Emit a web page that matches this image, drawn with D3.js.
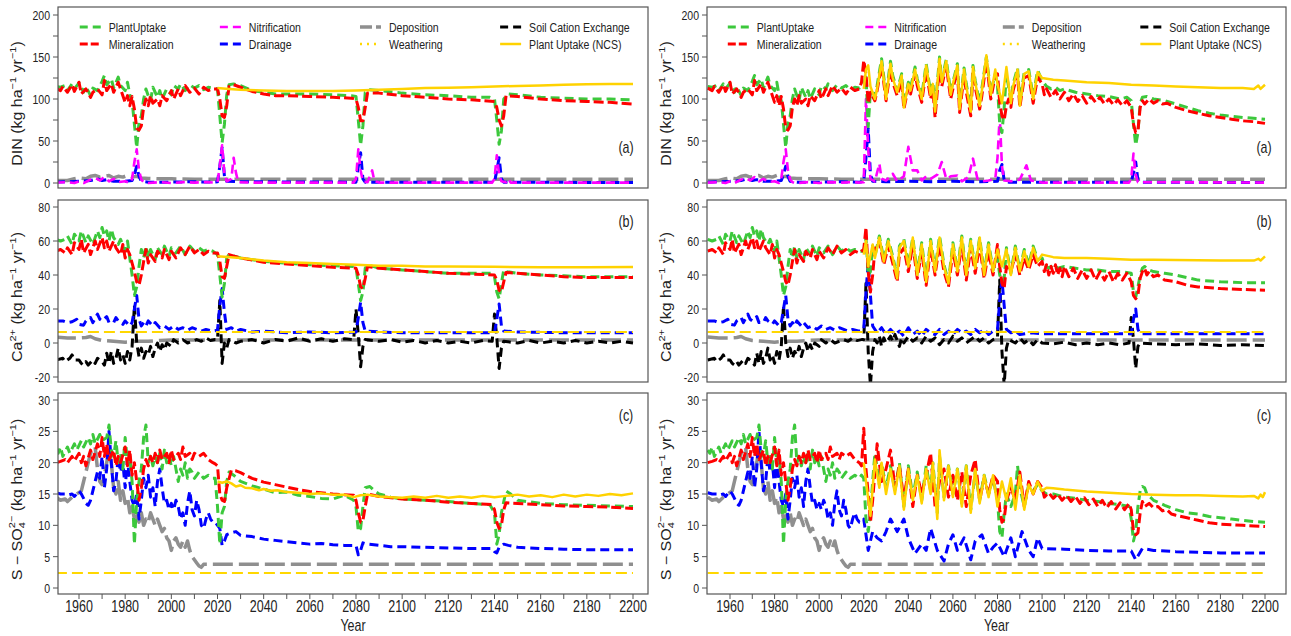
<!DOCTYPE html>
<html>
<head>
<meta charset="utf-8">
<title>DIN, Ca and S fluxes</title>
<script src="https://d3js.org/d3.v7.min.js"></script>
<style>
  body { margin: 0; background: #fff; }
  text { font-family: "Liberation Sans", Arial, sans-serif; fill: #222; }
</style>
</head>
<body>
<svg id="chart" width="1291" height="636"></svg>
<script>
// ---------- data (year, value) ----------
// DIN panel
const dinUptakeHist = [[1950,115],[1952,114],[1954,116],[1955,110],[1957,118],[1958,112],[1960,119],[1962,108],[1963,115],[1965,104],[1966,113],[1968,110],[1970,121],[1971,128],[1972,117],[1974,124],[1975,113],[1977,126],[1978,116],[1980,110],[1981,120],[1982,105],[1983,98],[1984,70],[1985,42],[1986,72],[1987,80],[1988,100],[1989,112],[1990,104],[1991,98],[1992,114],[1994,102],[1995,110],[1996,100],[1998,112],[2000,105],[2001,116],[2003,112],[2004,118],[2006,110],[2008,117],[2010,113],[2012,116],[2014,111],[2016,114],[2018,113]];
const dinMinHist = [[1950,113],[1952,110],[1953,115],[1955,108],[1957,117],[1958,109],[1960,120],[1961,106],[1963,112],[1965,102],[1966,108],[1968,112],[1970,105],[1971,122],[1972,110],[1974,118],[1975,108],[1977,120],[1978,112],[1980,96],[1981,104],[1982,92],[1983,103],[1984,88],[1985,65],[1986,63],[1987,68],[1988,90],[1989,100],[1990,92],[1991,104],[1992,95],[1994,100],[1995,92],[1996,104],[1998,98],[2000,110],[2001,100],[2003,112],[2004,104],[2006,116],[2008,108],[2010,113],[2012,106],[2014,114],[2016,110],[2018,112]];
const dinNitrHist = [[1950,0.5],[1955,1],[1958,0],[1960,2],[1962,0],[1965,4],[1967,6],[1969,3],[1971,7],[1973,2],[1975,5],[1977,1],[1980,2],[1982,0],[1983,5],[1984,25],[1985,40],[1986,15],[1987,4],[1988,1],[1990,0],[1995,1],[2000,0],[2005,1],[2010,0.5],[2015,1],[2018,0.5]];
const dinDrainHist = [[1950,1],[1955,1.5],[1960,2],[1965,3],[1968,5],[1970,3],[1972,4],[1975,2],[1980,2],[1983,3],[1984,10],[1985,20],[1986,8],[1987,2],[1990,1],[2000,1],[2010,1.5],[2018,1]];
const dinDepo = [[1950,3],[1955,3],[1958,5],[1960,6],[1963,5],[1965,8],[1967,9],[1969,7],[1971,8],[1973,9],[1975,6],[1977,8],[1979,7],[1981,9],[1983,7],[1985,8],[1987,6],[1990,5.5],[1995,5],[2000,5],[2010,4.5],[2200,4.5]];

const dinUptakeA = [[2020,112],[2021,80],[2022,48],[2023,70],[2024,105],[2025,117],[2027,118],[2030,116],[2035,110],[2040,108],[2045,106],[2050,106],[2060,106],[2070,105],[2078,104],[2080,103],[2081,75],[2082,45],[2083,68],[2084,108],[2086,111],[2090,110],[2100,107],[2110,105],[2120,104],[2130,102],[2138,102],[2140,100],[2141,75],[2142,46],[2143,62],[2144,100],[2146,106],[2150,105],[2160,102],[2170,101],[2180,100],[2190,100],[2200,99]];
const dinMinA = [[2020,112],[2021,100],[2022,80],[2023,78],[2024,92],[2025,115],[2027,117],[2030,114],[2035,109],[2040,106],[2045,104],[2050,104],[2060,103],[2070,102],[2078,101],[2080,100],[2081,90],[2082,74],[2083,74],[2084,90],[2085,107],[2090,107],[2100,104],[2110,102],[2120,100],[2130,99],[2140,97],[2141,90],[2142,75],[2143,68],[2144,80],[2145,104],[2150,103],[2160,100],[2170,98],[2180,97],[2190,96],[2200,94]];
const dinNcsA = [[2020,113],[2025,112],[2030,111],[2040,110],[2050,109.5],[2060,109.5],[2070,109.5],[2080,110],[2090,111],[2100,112],[2110,113],[2120,113.5],[2130,114],[2140,115],[2150,115.5],[2160,116],[2170,117],[2180,117.5],[2190,118],[2200,118]];
const dinNitrA = [[2020,1],[2021,20],[2022,45],[2023,10],[2024,2],[2026,5],[2027,30],[2028,12],[2029,1],[2035,0.5],[2050,0.5],[2079,0.5],[2080,5],[2081,40],[2082,15],[2083,2],[2085,1],[2087,15],[2088,2],[2090,0.5],[2120,0.5],[2139,0.5],[2140,5],[2141,33],[2142,10],[2143,2],[2145,1],[2146,5],[2147,0.5],[2200,0.5]];
const dinDrainA = [[2020,1.5],[2021,20],[2022,42],[2023,8],[2024,2],[2030,1.5],[2080,1],[2081,20],[2082,36],[2083,5],[2084,1],[2140,1],[2141,15],[2142,30],[2143,5],[2144,1],[2200,0.5]];

const dinUptakeB = [[2020,118],[2021,128],[2022,67],[2023,110],[2025,104],[2026,116],[2028,148],[2030,104],[2032,145],[2033,128],[2035,110],[2037,130],[2038,93],[2040,120],[2041,113],[2043,138],[2044,124],[2046,103],[2048,142],[2050,108],[2051,120],[2052,88],[2054,150],[2055,122],[2057,147],[2059,108],[2060,120],[2062,142],[2063,90],[2065,137],[2066,118],[2068,88],[2069,140],[2070,122],[2072,95],[2073,113],[2075,150],[2077,108],[2079,130],[2080,115],[2081,70],[2082,60],[2083,90],[2084,130],[2086,98],[2087,118],[2089,137],[2090,95],[2092,132],[2094,135],[2096,103],[2098,134],[2100,122],[2102,115],[2104,112],[2106,114],[2108,110],[2110,112],[2115,108],[2120,106],[2125,104],[2130,103],[2135,100],[2138,102],[2140,98],[2141,70],[2142,45],[2143,60],[2144,95],[2145,102],[2147,103],[2150,100],[2155,98],[2160,94],[2165,90],[2170,86],[2175,83],[2180,81],[2190,78],[2200,76]];
const dinMinB = [[2019,120],[2020,146],[2021,130],[2022,95],[2023,108],[2025,98],[2026,110],[2028,140],[2030,98],[2032,136],[2033,120],[2035,104],[2037,122],[2038,88],[2040,114],[2041,106],[2043,130],[2044,116],[2046,96],[2048,134],[2050,100],[2051,112],[2052,78],[2054,140],[2055,115],[2057,140],[2059,100],[2060,112],[2062,134],[2063,84],[2065,128],[2066,108],[2068,80],[2069,132],[2070,114],[2072,88],[2073,104],[2075,145],[2077,100],[2079,128],[2080,130],[2081,95],[2082,80],[2083,75],[2084,92],[2085,100],[2086,90],[2087,110],[2089,130],[2090,90],[2092,125],[2094,128],[2096,95],[2098,126],[2100,118],[2101,105],[2102,112],[2104,102],[2106,110],[2108,100],[2110,108],[2112,98],[2114,106],[2116,97],[2118,104],[2120,95],[2122,103],[2124,96],[2126,102],[2128,94],[2130,100],[2132,93],[2134,99],[2136,92],[2138,98],[2140,90],[2141,70],[2142,60],[2143,62],[2144,90],[2145,98],[2146,94],[2148,100],[2150,95],[2152,98],[2154,94],[2156,95],[2160,90],[2165,86],[2170,83],[2175,80],[2180,78],[2185,76],[2190,74],[2195,73],[2200,71]];
const dinNcsB = [[2020,112],[2021,135],[2022,140],[2023,115],[2025,100],[2026,112],[2028,145],[2030,100],[2032,142],[2033,125],[2035,108],[2037,128],[2038,90],[2040,118],[2041,110],[2043,135],[2044,122],[2046,100],[2048,140],[2050,105],[2051,118],[2052,85],[2054,148],[2055,120],[2057,145],[2059,105],[2060,118],[2062,140],[2063,88],[2065,135],[2066,115],[2068,85],[2069,138],[2070,120],[2072,92],[2073,110],[2075,152],[2077,105],[2079,135],[2080,118],[2082,95],[2084,138],[2086,95],[2087,115],[2089,135],[2090,92],[2092,130],[2094,133],[2096,100],[2098,132],[2100,125],[2105,123],[2110,122],[2120,120],[2130,119],[2140,117],[2150,116],[2160,115],[2170,114],[2180,113],[2190,113],[2195,112],[2197,116],[2198,112],[2200,117]];
const dinNitrB = [[2020,1],[2021,100],[2022,40],[2023,5],[2025,2],[2027,23],[2028,5],[2030,3],[2033,11],[2035,2],[2038,8],[2040,43],[2042,15],[2044,15],[2046,3],[2048,8],[2050,5],[2053,10],[2055,25],[2057,5],[2059,8],[2062,9],[2064,2],[2067,7],[2069,29],[2071,5],[2073,2],[2076,3],[2079,5],[2080,30],[2081,80],[2082,20],[2083,3],[2086,2],[2090,4],[2093,21],[2095,3],[2100,0.5],[2139,0.5],[2140,5],[2141,35],[2142,10],[2143,1],[2200,0.5]];
const dinDrainB = [[2020,2],[2021,30],[2022,65],[2023,10],[2024,2],[2030,1.5],[2040,2],[2050,1.5],[2060,2],[2070,1.5],[2080,2],[2081,15],[2082,22],[2083,3],[2085,1],[2100,1],[2140,1],[2141,12],[2142,25],[2143,3],[2144,1],[2200,0.5]];

// Ca panel
const caUptakeHist = [[1950,61],[1952,60],[1954,61],[1955,63],[1957,58],[1958,64],[1960,60],[1961,66],[1963,59],[1964,63],[1966,58],[1968,66],[1969,62],[1970,68],[1971,63],[1972,66],[1973,60],[1974,67],[1975,62],[1977,58],[1978,61],[1980,54],[1981,60],[1982,50],[1983,40],[1984,28],[1985,33],[1986,45],[1987,55],[1988,50],[1989,57],[1990,50],[1991,55],[1993,49],[1994,56],[1996,52],[1997,57],[1999,51],[2000,56],[2002,53],[2004,57],[2006,52],[2008,57],[2010,54],[2012,56],[2014,54],[2016,55],[2018,54]];
const caMinHist = [[1950,54],[1952,55],[1954,53],[1955,56],[1957,52],[1958,59],[1960,55],[1961,61],[1962,53],[1964,58],[1965,52],[1967,60],[1968,55],[1970,62],[1971,56],[1972,60],[1973,54],[1975,60],[1976,56],[1978,52],[1979,58],[1980,50],[1981,55],[1982,52],[1983,47],[1984,42],[1985,36],[1986,34],[1987,40],[1988,48],[1989,55],[1990,47],[1991,52],[1993,48],[1994,54],[1996,50],[1997,55],[1999,49],[2000,54],[2002,50],[2004,56],[2006,52],[2008,57],[2010,53],[2012,55],[2014,52],[2016,54],[2018,53]];
const caDrainHist = [[1950,13],[1953,13],[1955,12],[1957,12.5],[1959,14],[1960,11],[1962,10.5],[1963,13],[1965,15],[1966,12],[1968,17],[1969,14],[1970,13],[1972,15.5],[1973,12],[1975,12],[1976,15],[1977,13],[1979,11],[1980,13],[1982,10],[1983,12],[1984,20],[1985,28],[1986,14],[1987,10],[1988,12],[1989,10],[1990,13],[1992,10],[1993,12],[1995,9],[1997,10],[1999,8],[2001,10],[2003,8],[2005,9],[2007,7.5],[2009,9],[2011,8],[2013,7],[2015,8],[2018,7]];
const caExchHist = [[1950,-10],[1953,-9],[1954,-11],[1956,-9],[1957,-7],[1958,-10],[1960,-10],[1961,-12],[1962,-13],[1963,-11],[1964,-13],[1966,-10],[1967,-12],[1968,-9],[1970,-11],[1971,-13],[1972,-6],[1973,-12],[1974,-5],[1975,-12],[1976,-9],[1977,-3],[1978,-10],[1979,-7],[1980,-12],[1981,-5],[1982,-10],[1983,-2],[1984,22],[1985,0],[1986,-8],[1987,-3],[1988,-9],[1989,-5],[1990,-7],[1991,-2],[1992,-8],[1993,-3],[1994,0],[1995,-5],[1996,-1],[1997,-4],[1998,0],[2000,-2],[2001,2],[2003,0],[2005,2],[2007,0],[2009,1],[2011,2],[2013,1],[2015,3],[2017,1.5],[2019,2]];
const caDepo = [[1950,3.5],[1955,3],[1960,3],[1963,3.2],[1965,3.8],[1967,2.5],[1970,1.5],[1975,1],[1980,0.5],[1985,1],[1990,1],[1995,1.5],[2000,1.8],[2200,1.8]];
const caWeath = [[1950,6.5],[2200,6.5]];

const caUptakeA = [[2020,52],[2021,40],[2022,27],[2023,35],[2024,50],[2025,52],[2030,50],[2040,48],[2050,47],[2060,46],[2070,45.5],[2079,45],[2080,44],[2081,35],[2082,25],[2083,30],[2084,44],[2085,46],[2090,44],[2100,43],[2110,42],[2120,41],[2130,41],[2139,41],[2140,39],[2141,30],[2142,26],[2143,35],[2144,43],[2145,42],[2150,41],[2160,40],[2170,39.5],[2180,39],[2190,39],[2200,39]];
const caMinA = [[2020,53],[2021,48],[2022,39],[2023,38],[2024,45],[2025,52],[2030,50],[2040,47.5],[2050,46.5],[2060,45.5],[2070,44.5],[2080,44],[2081,40],[2082,33],[2083,32],[2084,38],[2085,45],[2090,44],[2100,43],[2110,42],[2120,41],[2130,40.5],[2140,40],[2141,37],[2142,31],[2143,30],[2144,36],[2145,41.5],[2150,41],[2160,40],[2170,39],[2180,38.5],[2190,38.5],[2200,38.5]];
const caNcsA = [[2020,51],[2030,50],[2040,48.5],[2050,47.5],[2060,47],[2070,46.5],[2080,46],[2090,45.5],[2100,45.5],[2110,45],[2120,45],[2140,44.8],[2160,44.6],[2180,44.6],[2200,44.7]];
const caDrainA = [[2020,7.5],[2021,22],[2022,32],[2023,18],[2024,8],[2026,9],[2028,7],[2030,8],[2035,6.5],[2040,7],[2050,6],[2060,6.5],[2070,6],[2080,6.5],[2081,15],[2082,24],[2083,12],[2084,7],[2090,6.5],[2100,6],[2120,6],[2140,6],[2141,14],[2142,23],[2143,10],[2144,7],[2150,6.5],[2170,6],[2200,6]];
const caExchA = [[2020,2],[2021,25],[2022,-12],[2023,0],[2024,-3],[2025,2],[2028,0],[2030,1],[2035,2],[2040,0],[2045,2],[2050,1],[2055,3],[2060,1],[2065,2.5],[2070,1],[2075,2.5],[2079,2],[2080,20],[2081,5],[2082,-14],[2083,-2],[2084,2],[2090,1],[2095,2],[2100,0.5],[2105,1.5],[2110,0],[2115,1.5],[2120,0],[2125,1],[2130,0],[2135,1.5],[2139,1],[2140,17],[2141,3],[2142,-15],[2143,-3],[2144,1],[2150,0],[2155,1.5],[2160,0],[2165,1],[2170,0],[2175,1.5],[2180,0],[2185,1],[2190,0],[2195,1],[2200,0]];

const caUptakeB = [[2020,54],[2021,62],[2022,40],[2023,42],[2024,57],[2025,51],[2027,63],[2029,49],[2031,61],[2033,51],[2035,39],[2036,57],[2038,61],[2040,46],[2042,62],[2044,41],[2046,59],[2048,37],[2050,61],[2052,43],[2054,63],[2056,46],[2058,36],[2060,59],[2062,43],[2064,63],[2066,41],[2068,61],[2070,45],[2072,62],[2074,41],[2076,59],[2078,43],[2080,50],[2081,40],[2082,36],[2083,38],[2084,56],[2086,41],[2088,57],[2090,43],[2092,55],[2094,46],[2096,57],[2098,49],[2100,50],[2101,46],[2103,44],[2105,46],[2107,44],[2110,45],[2115,44],[2120,43],[2125,43],[2130,42],[2135,42],[2140,41],[2141,30],[2142,27],[2143,33],[2144,40],[2145,44],[2146,45],[2148,43],[2150,42],[2155,41],[2160,40],[2170,37],[2180,36],[2190,35.5],[2200,35.5]];
const caMinB = [[2020,55],[2021,68],[2022,42],[2023,30],[2024,40],[2025,55],[2027,60],[2029,46],[2031,57],[2033,47],[2035,36],[2036,52],[2038,56],[2040,42],[2042,58],[2044,38],[2046,54],[2048,34],[2050,56],[2052,40],[2054,58],[2056,42],[2058,33],[2060,54],[2062,40],[2064,58],[2066,37],[2068,56],[2070,41],[2072,58],[2074,38],[2076,54],[2078,40],[2080,58],[2081,45],[2082,35],[2083,32],[2084,45],[2086,42],[2088,52],[2090,40],[2092,50],[2094,43],[2096,52],[2098,45],[2100,48],[2101,42],[2102,46],[2103,40],[2104,45],[2105,41],[2106,46],[2107,40],[2108,44],[2109,39],[2110,45],[2112,39],[2114,44],[2116,38],[2118,43],[2120,38],[2122,43],[2124,37],[2126,42],[2128,37],[2130,42],[2132,36],[2134,41],[2136,37],[2138,41],[2140,36],[2141,28],[2142,26],[2143,28],[2144,38],[2145,42],[2146,44],[2147,40],[2148,42],[2150,39],[2152,40],[2155,37],[2160,36],[2165,34],[2170,33],[2180,32],[2190,31.5],[2200,31]];
const caNcsB = [[2020,52],[2021,60],[2022,45],[2024,58],[2025,50],[2027,62],[2029,48],[2031,60],[2033,50],[2035,38],[2036,56],[2038,60],[2040,45],[2042,62],[2044,40],[2046,58],[2048,36],[2050,60],[2052,42],[2054,62],[2056,45],[2058,35],[2060,58],[2062,42],[2064,62],[2066,40],[2068,60],[2070,44],[2072,62],[2074,40],[2076,58],[2078,42],[2080,55],[2082,45],[2084,55],[2086,40],[2088,56],[2090,42],[2092,54],[2094,45],[2096,56],[2098,48],[2100,52],[2105,50.5],[2110,50],[2120,50],[2130,49.5],[2140,49],[2150,49],[2160,48.8],[2170,48.7],[2180,48.6],[2190,48.5],[2195,48.5],[2197,49.5],[2198,48.5],[2200,51]];
const caDrainB = [[2020,8],[2021,30],[2022,47],[2023,28],[2024,10],[2026,6],[2028,9],[2030,5],[2032,8],[2034,5],[2036,7],[2038,4],[2040,9],[2042,5],[2044,7],[2046,4],[2048,8],[2050,6],[2052,5],[2054,8],[2056,5],[2058,7],[2060,5],[2062,8],[2064,6],[2066,7],[2068,5],[2070,8],[2072,6],[2074,8],[2076,5],[2078,7],[2080,8],[2081,25],[2082,37],[2083,22],[2084,8],[2086,6],[2088,7],[2090,5],[2095,6],[2100,5.5],[2120,5.5],[2140,5.5],[2141,14],[2142,20],[2143,8],[2144,5.5],[2200,5.5]];
const caExchB = [[2020,2],[2021,35],[2022,-5],[2023,-25],[2024,-5],[2025,2],[2026,0],[2027,4],[2028,-2],[2029,3],[2030,0],[2032,4],[2033,1],[2034,5],[2036,-2],[2037,3],[2038,0],[2040,4],[2042,1],[2044,3],[2046,0],[2048,4],[2050,1],[2052,3],[2054,-1],[2056,2],[2058,0],[2060,4],[2062,1],[2064,3],[2066,0],[2068,2],[2070,4],[2072,1],[2074,3],[2076,0],[2078,2],[2080,3],[2081,37],[2082,-5],[2083,-25],[2084,-3],[2085,2],[2088,0],[2090,3],[2092,0],[2094,2],[2096,-1],[2098,2],[2100,0],[2105,-0.5],[2110,0.5],[2115,-1],[2120,0],[2125,-1],[2130,0],[2135,-1],[2139,0],[2140,15],[2141,2],[2142,-15],[2143,-2],[2144,0],[2150,-0.5],[2160,-1],[2170,-0.5],[2180,-1.5],[2190,-1],[2200,-1.5]];

// S-SO4 panel
const soUptakeHist = [[1950,22],[1951,21.5],[1952,22.5],[1953,21],[1955,22.5],[1956,21.5],[1958,23],[1959,22],[1961,23.5],[1962,22.5],[1964,24],[1965,23],[1966,24.5],[1967,23],[1969,24.5],[1970,23.5],[1972,24],[1973,26],[1974,22],[1975,21],[1976,23.5],[1977,20],[1978,21.5],[1979,19],[1980,24],[1981,20],[1982,21],[1983,17],[1984,7],[1985,14],[1986,17],[1987,19],[1988,24],[1989,26],[1990,20],[1991,21],[1992,19.5],[1993,21],[1994,20],[1995,21.5],[1996,19],[1997,22],[1998,20],[1999,21],[2000,19.5],[2001,21],[2002,19],[2003,17],[2004,19],[2005,18],[2006,20],[2007,17.5],[2008,19],[2009,18.5],[2010,17.5],[2012,18.5],[2014,17.5],[2016,18],[2018,17.5]];
const soMinHist = [[1950,20],[1952,20.2],[1954,20.5],[1955,20],[1957,21],[1958,20.3],[1960,21.5],[1961,20],[1962,21],[1963,19.5],[1965,22],[1966,20.5],[1968,23],[1969,21],[1970,24],[1971,21],[1972,23],[1973,20.5],[1975,22],[1976,19.5],[1977,21],[1978,20],[1980,22.5],[1981,19.5],[1982,22],[1983,18],[1984,20],[1985,17],[1986,14],[1987,16],[1988,19],[1989,20.5],[1990,19.5],[1991,21],[1992,20],[1993,21.5],[1994,20],[1995,22],[1996,20.5],[1998,21.5],[1999,20],[2000,22],[2001,20.5],[2003,21.5],[2004,20.5],[2005,22.5],[2006,21],[2008,21.5],[2009,20.5],[2010,21.5],[2012,21],[2014,21.5],[2016,20.5],[2018,20]];
const soDrainHist = [[1950,15.2],[1952,15],[1954,15],[1955,14.8],[1957,15],[1958,14.6],[1960,15.5],[1961,15],[1962,14.3],[1963,13.5],[1964,13.2],[1965,14],[1966,15.5],[1967,17],[1968,18.5],[1969,17.5],[1970,21],[1971,16],[1972,19],[1973,25],[1974,20],[1975,15.5],[1976,17],[1977,21],[1978,18.5],[1979,20],[1980,16],[1981,20.5],[1982,17],[1983,14],[1984,13],[1985,15],[1986,11],[1987,14],[1988,17.5],[1989,16],[1990,18],[1991,14.5],[1992,16],[1993,13],[1994,17],[1995,19],[1996,16],[1997,13.5],[1998,14],[1999,12.5],[2000,13.5],[2001,12.5],[2002,14],[2003,13],[2004,11],[2005,12],[2006,10],[2007,13.5],[2008,15.5],[2009,12.5],[2010,11.5],[2011,14],[2012,12.5],[2013,10],[2014,9.5],[2015,11],[2016,12],[2017,11],[2018,10.5]];
const soDepo = [[1950,14.5],[1952,14],[1954,14.2],[1955,13.8],[1957,14.5],[1959,15],[1961,15.5],[1962,17],[1963,18.5],[1964,20],[1965,21.5],[1966,22],[1967,22.5],[1968,19],[1969,17],[1970,16.5],[1971,18],[1972,20],[1973,22],[1974,20],[1975,16],[1976,15],[1977,17],[1978,14],[1979,15.5],[1980,13.5],[1981,14.5],[1982,12],[1983,13],[1984,11],[1985,11.5],[1986,10.5],[1987,12],[1988,10],[1989,11],[1990,10.5],[1991,12],[1992,11],[1993,10],[1994,11],[1995,10],[1996,9],[1997,9.5],[1998,8],[1999,7.5],[2000,6],[2001,7.5],[2002,8],[2003,7],[2004,6.5],[2005,7.5],[2006,6.5],[2007,7.5],[2008,6],[2009,5],[2010,4.5],[2011,4],[2012,3.5],[2013,3.3],[2014,3.8],[2200,3.8]];
const soWeath = [[1950,2.4],[2200,2.4]];

const soUptakeA = [[2019,17.5],[2020,13],[2021,7],[2022,12],[2023,13],[2024,17],[2025,18.5],[2027,18],[2030,17],[2035,16.3],[2040,15.8],[2045,15.2],[2050,15.3],[2055,14.8],[2060,14.6],[2065,14.3],[2070,14.2],[2075,14.8],[2079,14],[2080,13],[2081,9],[2082,9.5],[2083,13],[2084,16],[2086,16.2],[2088,15.5],[2090,15],[2095,14.5],[2100,14.2],[2110,14],[2120,13.8],[2130,13.5],[2138,13.3],[2140,12],[2141,7],[2142,8.5],[2143,12],[2145,15.5],[2147,15],[2150,14],[2160,13.5],[2170,13.3],[2180,13.2],[2190,13.1],[2200,13]];
const soMinA = [[2019,19.8],[2020,19.5],[2021,15],[2022,14],[2023,13.8],[2024,16],[2026,18.8],[2028,18.7],[2030,18.4],[2035,17.5],[2040,16.9],[2045,16.5],[2050,16.1],[2055,15.7],[2060,15.4],[2070,15],[2079,14.8],[2080,14],[2081,12],[2082,10.5],[2083,10.8],[2084,13],[2085,15],[2090,14.6],[2100,14.2],[2110,14],[2120,13.7],[2130,13.5],[2139,13.3],[2140,12.5],[2141,10.5],[2142,9.5],[2143,10],[2144,12.5],[2145,13.6],[2150,13.5],[2160,13.3],[2170,13.1],[2180,13],[2190,12.9],[2200,12.7]];
const soDrainA = [[2019,10.5],[2020,10],[2021,9.5],[2022,6.8],[2023,7.5],[2024,8.5],[2026,8.8],[2028,9],[2030,8.4],[2035,8.2],[2040,7.8],[2045,7.6],[2050,7.4],[2055,7.2],[2060,7],[2065,7.1],[2070,6.9],[2075,6.8],[2080,6.8],[2081,5.3],[2082,6],[2083,7.2],[2085,7],[2090,6.8],[2095,6.6],[2100,6.6],[2110,6.5],[2120,6.4],[2130,6.3],[2139,6.3],[2140,5.8],[2141,5.6],[2142,6.5],[2144,7],[2146,6.8],[2150,6.5],[2160,6.3],[2170,6.2],[2180,6.1],[2190,6.1],[2200,6.1]];
const soNcsA = [[2020,17],[2022,16.8],[2024,17],[2026,16.7],[2028,16.2],[2030,16.4],[2032,16],[2035,15.9],[2038,15.6],[2040,15.8],[2043,15.5],[2046,15.6],[2050,15.3],[2055,15.2],[2060,15],[2065,15.1],[2070,14.9],[2075,14.9],[2079,14.5],[2082,14.8],[2085,14.9],[2090,14.6],[2095,14.5],[2100,14.4],[2105,14.6],[2110,14.4],[2115,14.7],[2120,14.4],[2125,14.6],[2130,14.4],[2135,14.7],[2140,14.5],[2145,14.7],[2150,14.9],[2155,14.6],[2160,14.8],[2165,14.5],[2170,14.9],[2175,14.6],[2180,14.9],[2185,14.7],[2190,15],[2195,14.8],[2200,15.1]];

const soUptakeB = [[2019,18],[2020,17.5],[2021,11],[2022,9],[2023,12],[2024,17],[2025,21.5],[2027,16.5],[2028,20],[2030,16],[2032,19.5],[2034,15.5],[2036,20],[2038,13],[2040,19.5],[2042,14.5],[2044,18.5],[2046,14],[2048,19.5],[2050,15.5],[2051,20],[2053,12],[2054,21],[2056,14.5],[2058,19.5],[2060,15],[2062,19],[2064,13.5],[2066,19.5],[2068,12.5],[2070,18.5],[2072,14],[2074,18],[2076,15],[2078,17.5],[2080,14],[2081,9],[2082,8],[2083,12],[2084,15],[2086,13],[2088,15],[2089,19.5],[2090,16],[2092,13],[2094,16.5],[2096,15.5],[2098,16.5],[2100,15.5],[2102,15],[2105,15],[2110,14.5],[2115,14.3],[2120,14],[2125,13.8],[2130,13.5],[2135,13.3],[2139,13],[2140,11],[2141,7.5],[2142,9],[2143,13],[2144,15.5],[2145,16.2],[2146,16],[2147,15],[2150,14],[2155,13.2],[2160,12.5],[2165,12],[2170,11.8],[2175,11.4],[2180,11.2],[2185,11],[2190,10.8],[2195,10.6],[2200,10.5]];
const soMinB = [[2019,19.5],[2020,25.5],[2021,19],[2022,15],[2023,10.5],[2024,14],[2026,23],[2028,17],[2030,19],[2032,22],[2034,16],[2036,19.5],[2038,14],[2040,19],[2042,13],[2044,18],[2046,15],[2048,18],[2050,21.5],[2052,13],[2054,17],[2056,19],[2058,14.5],[2060,18],[2062,14],[2064,18.5],[2066,13],[2068,18],[2070,20.5],[2072,14],[2074,17.5],[2076,15],[2078,18],[2080,17],[2081,12.5],[2082,10.5],[2083,11],[2084,14],[2086,16],[2088,14],[2090,18.5],[2092,13],[2094,17],[2096,15],[2098,17],[2100,16],[2101,14.5],[2103,15.2],[2105,14.3],[2107,15],[2109,14],[2111,14.8],[2113,13.8],[2115,14.6],[2117,13.5],[2119,14.4],[2121,13.3],[2123,14.2],[2125,13],[2127,14],[2129,12.8],[2131,13.8],[2133,12.6],[2135,13.6],[2137,12.5],[2139,13.5],[2140,12.5],[2141,9],[2142,8.5],[2143,8.8],[2144,12],[2145,13.8],[2146,13],[2148,13.5],[2150,12.8],[2152,13],[2154,12.3],[2156,12.5],[2158,11.8],[2160,11.6],[2165,11.2],[2170,10.8],[2175,10.4],[2180,10.2],[2185,10.1],[2190,10],[2195,9.9],[2200,9.8]];
const soNcsB = [[2020,20],[2021,17],[2023,11.5],[2025,20.5],[2027,16],[2028,20],[2030,15],[2032,19],[2034,15],[2036,19.5],[2038,12.5],[2040,19],[2042,14],[2044,18],[2046,13.5],[2048,19],[2050,15],[2051,20],[2053,11],[2054,22],[2056,14],[2058,19.5],[2060,14.5],[2062,19],[2064,13],[2066,19.5],[2068,12],[2070,19],[2072,13.5],[2074,18],[2076,14.5],[2078,18],[2080,13],[2082,17],[2084,14],[2086,17.5],[2088,12.5],[2090,18],[2092,12.5],[2094,16.5],[2096,15],[2098,17],[2100,15.5],[2102,16],[2105,15.9],[2110,15.7],[2120,15.4],[2130,15.2],[2140,15],[2150,14.9],[2160,14.8],[2170,14.8],[2180,14.7],[2190,14.6],[2195,14.7],[2197,14.3],[2198,14.9],[2199,14.5],[2200,15.3]];
const soDrainB = [[2019,10.5],[2020,11],[2022,6],[2024,9],[2026,8],[2028,7.5],[2030,9],[2032,11],[2035,9],[2038,11],[2040,8],[2043,5.5],[2046,7],[2048,6],[2050,9.5],[2053,6],[2056,4.3],[2058,7],[2060,8.5],[2062,6],[2065,8],[2068,4.5],[2070,7.5],[2073,8.5],[2076,5.5],[2078,6.5],[2080,7.2],[2083,5],[2086,8],[2088,5],[2091,9],[2094,6],[2096,5],[2098,8],[2100,6.3],[2110,6.2],[2120,6],[2130,5.9],[2140,5.9],[2142,4.5],[2145,6.3],[2150,6],[2160,5.8],[2170,5.7],[2180,5.6],[2200,5.6]];

const legendNames = ["PlantUptake", "Mineralization", "Nitrification", "Drainage",
                     "Deposition", "Weathering", "Soil Cation Exchange", "Plant Uptake (NCS)"];
const legendKeys = ["uptake", "mineral", "nitrif", "drain", "depo", "weather", "exch", "ncs"];
const xTicks = d3.range(1960, 2201, 10);

// ---------- styles ----------
const styles = {
  depo:    {color: "#8f8f8f", width: 3.5, dash: "20,6", legendDash: "12,4"},
  exch:    {color: "#000000", width: 3,   dash: "9,5",  legendDash: "8,5"},
  drain:   {color: "#0000ff", width: 3,   dash: "9,5",  legendDash: "8,5"},
  nitrif:  {color: "#ff00ff", width: 2.6, dash: "9,5",  legendDash: "8,5"},
  uptake:  {color: "#3cc83c", width: 3,   dash: "9,5",  legendDash: "8,5"},
  mineral: {color: "#ff0000", width: 3,   dash: "10,4", legendDash: "8,3"},
  weather: {color: "#ffd700", width: 2,   dash: "11,5", legendDash: "2,5"},
  ncs:     {color: "#ffd200", width: 2.5, dash: null,   legendDash: null}
};
const drawOrder = ["depo", "exch", "drain", "nitrif", "uptake", "mineral", "weather", "ncs"];

// ---------- layout ----------
const SQX = 0.78; // glyph squeeze of the original figure
const cols = [
  {x0: 58, x1: 648, r: [79, 633]},
  {x0: 707, x1: 1286, r: [730, 1265]}
];
const panels = [
  {y0: 7, y1: 188, dom: [0, 200], rng: [183, 15], ticks: d3.range(0, 201, 25), labels: [0, 50, 100, 150, 200],
   tag: "(a)", tagY: 153, legend: true,
   series: [
     {depo: dinDepo, drain: dinDrainHist.concat(dinDrainA), nitrif: dinNitrHist.concat(dinNitrA),
      uptake: dinUptakeHist.concat(dinUptakeA), mineral: dinMinHist.concat(dinMinA), ncs: dinNcsA},
     {depo: dinDepo, drain: dinDrainHist.concat(dinDrainB), nitrif: dinNitrHist.concat(dinNitrB),
      uptake: dinUptakeHist.concat(dinUptakeB), mineral: dinMinHist.concat(dinMinB), ncs: dinNcsB}
   ]},
  {y0: 200, y1: 382, dom: [-20, 80], rng: [377, 207], ticks: d3.range(-20, 81, 20), labels: d3.range(-20, 81, 20),
   tag: "(b)", tagY: 227,
   series: [
     {depo: caDepo, exch: caExchHist.concat(caExchA), drain: caDrainHist.concat(caDrainA),
      uptake: caUptakeHist.concat(caUptakeA), mineral: caMinHist.concat(caMinA), weather: caWeath, ncs: caNcsA},
     {depo: caDepo, exch: caExchHist.concat(caExchB), drain: caDrainHist.concat(caDrainB),
      uptake: caUptakeHist.concat(caUptakeB), mineral: caMinHist.concat(caMinB), weather: caWeath, ncs: caNcsB}
   ]},
  {y0: 393, y1: 594, dom: [0, 30], rng: [588, 400], ticks: d3.range(0, 31, 5), labels: d3.range(0, 31, 5),
   tag: "(c)", tagY: 421, xAxis: true,
   series: [
     {depo: soDepo, drain: soDrainHist.concat(soDrainA), uptake: soUptakeHist.concat(soUptakeA),
      mineral: soMinHist.concat(soMinA), weather: soWeath, ncs: soNcsA},
     {depo: soDepo, drain: soDrainHist.concat(soDrainB), uptake: soUptakeHist.concat(soUptakeB),
      mineral: soMinHist.concat(soMinB), weather: soWeath, ncs: soNcsB}
   ]}
];

const svg = d3.select("#chart");

function label(g, x, y, str, size, anchor) {
  return g.append("text")
    .attr("transform", "translate(" + x + "," + y + ") scale(" + SQX + ",1)")
    .attr("font-size", size + "px")
    .attr("text-anchor", anchor || "start")
    .text(str);
}

function sup(t, s, size) {
  t.append("tspan").attr("font-size", size + "px").attr("dy", -7).text(s);
  return t.append("tspan").attr("dy", 7);
}

function yTitle(g, x, y, kind) {
  const t = g.append("text")
    .attr("transform", "translate(" + x + "," + y + ") rotate(-90) scale(1,0.86)")
    .attr("font-size", "16px")
    .attr("text-anchor", "middle");
  if (kind === 0) {
    t.append("tspan").text("DIN  (kg ha");
  } else if (kind === 1) {
    t.append("tspan").text("Ca");
    sup(t, "2+", 11).text("  (kg ha");
  } else {
    t.append("tspan").text("S \u2212 SO");
    t.append("tspan").attr("font-size", "11px").attr("dy", 4).text("4");
    t.append("tspan").attr("font-size", "11px").attr("dx", -6).attr("dy", -12).text("2\u2212");
    t.append("tspan").attr("dy", 8).text("  (kg ha");
  }
  sup(t, "\u22121", 11).text("  yr");
  sup(t, "\u22121", 11).text(")");
}

cols.forEach(function(c, ci) {
  const x = d3.scaleLinear().domain([1960, 2200]).range(c.r);
  panels.forEach(function(p, pi) {
    const y = d3.scaleLinear().domain(p.dom).range(p.rng);
    const g = svg.append("g");
    const clipId = "clip" + ci + pi;
    g.append("clipPath").attr("id", clipId)
      .append("rect").attr("x", c.x0).attr("y", p.y0)
      .attr("width", c.x1 - c.x0).attr("height", p.y1 - p.y0);

    const line = d3.line().x(d => x(d[0])).y(d => y(d[1]));
    const plot = g.append("g").attr("clip-path", "url(#" + clipId + ")");
    const data = p.series[ci];
    drawOrder.forEach(function(k) {
      if (!data[k]) return;
      const s = styles[k];
      plot.append("path")
        .datum(data[k])
        .attr("d", line)
        .attr("fill", "none")
        .attr("stroke", s.color)
        .attr("stroke-width", s.width)
        .attr("stroke-dasharray", s.dash)
        .attr("stroke-linejoin", "round");
    });

    // box
    g.append("rect").attr("x", c.x0).attr("y", p.y0)
      .attr("width", c.x1 - c.x0).attr("height", p.y1 - p.y0)
      .attr("fill", "none").attr("stroke", "#555").attr("stroke-width", 1.2);

    // y axis
    p.ticks.forEach(function(v) {
      g.append("line").attr("x1", c.x0 - 5).attr("x2", c.x0)
        .attr("y1", y(v)).attr("y2", y(v)).attr("stroke", "#555");
    });
    p.labels.forEach(function(v) {
      label(g, c.x0 - 8, y(v) + 5, String(v), 13.5, "end");
    });

    // x axis
    if (p.xAxis) {
      xTicks.forEach(function(v) {
        g.append("line").attr("x1", x(v)).attr("x2", x(v))
          .attr("y1", p.y1).attr("y2", p.y1 + 5).attr("stroke", "#555");
        if (v % 20 === 0) label(g, x(v), p.y1 + 18, String(v), 16, "middle");
      });
      label(g, (c.x0 + c.x1) / 2, 631, "Year", 16, "middle");
    }

    label(g, c.x1 - 22, p.tagY, p.tag, 16, "middle");
    yTitle(g, c.x0 - 36, (p.y0 + p.y1) / 2 + 6, pi);

    // legend
    if (p.legend) {
      const w = c.x1 - c.x0;
      legendNames.forEach(function(name, i) {
        const k = legendKeys[i];
        const s = styles[k];
        const tx = c.x0 + w * (0.086 + Math.floor(i / 2) * 0.2375);
        const ty = (i % 2 === 0) ? 27 : 44;
        g.append("line").attr("x1", tx - 29).attr("x2", tx - 8)
          .attr("y1", ty).attr("y2", ty)
          .attr("stroke", s.color).attr("stroke-width", k === "weather" ? 2.5 : s.width)
          .attr("stroke-dasharray", s.legendDash);
        label(g, tx, ty + 5, name, 13.5, "start");
      });
    }
  });
});
</script>
</body>
</html>
